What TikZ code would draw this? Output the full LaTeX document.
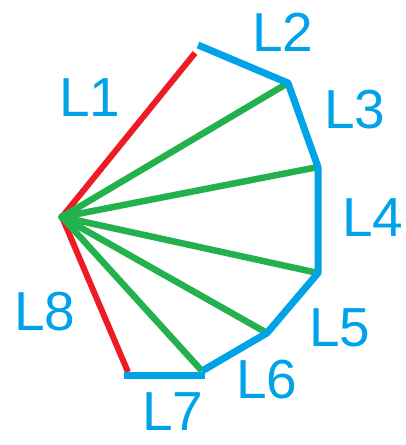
\documentclass[tikz,border=0pt]{standalone}
\usepackage{fontspec}
\setmainfont{Liberation Sans}
\definecolor{pblue}{HTML}{00A2E8}
\definecolor{pred}{HTML}{ED1C24}
\definecolor{pgreen}{HTML}{22B14C}
\begin{document}
\begin{tikzpicture}[x=1pt,y=-1pt,
  redline/.style={draw=pred,line width=6pt},
  greenline/.style={draw=pgreen,line width=6.5pt},
  blueline/.style={draw=pblue,line width=7pt},
  lab/.style={text=pblue,font=\fontsize{55}{60}\selectfont,inner sep=0pt}]
\useasboundingbox (0,0) rectangle (405,445);
\coordinate (P) at (62,217);
\coordinate (R1) at (195,53);
\coordinate (A) at (198,45);
\coordinate (B) at (288,83);
\coordinate (C) at (318,167);
\coordinate (D) at (318,273);
\coordinate (E) at (267,333);
\coordinate (F) at (202,371);
\coordinate (G1) at (124,375);
\coordinate (G2) at (205,375);
\coordinate (R8) at (128,372);
\draw[redline] (P) -- (R1);
\draw[redline] (P) -- (R8);
\foreach \t in {B,C,D,E,F} \draw[greenline] (P) -- (\t);
\fill[pgreen] (P) circle (4pt);
\draw[blueline,line join=round] (A) -- (B) -- (C) -- (D) -- (E) -- (F);
\draw[blueline] (G1) -- (G2);
\node[lab] (l1) at (90,98) {L1};
\node[lab] (l2) at (283,32) {L2};
\node[lab] (l3) at (355,110) {L3};
\node[lab] (l4) at (373,218) {L4};
\node[lab] (l5) at (340,328) {L5};
\node[lab] (l6) at (267,380) {L6};
\node[lab] (l7) at (173,412) {L7};
\node[lab] (l8) at (45,312) {L8};
\end{tikzpicture}
\end{document}
